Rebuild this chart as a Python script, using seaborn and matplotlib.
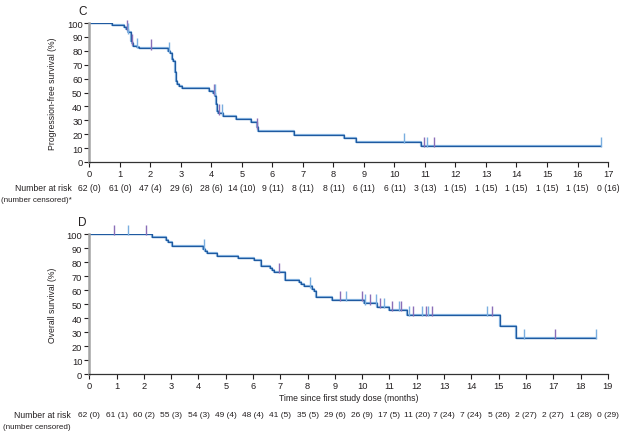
import matplotlib
matplotlib.use('Agg')

import numpy as np
import pandas as pd
import matplotlib.pyplot as plt
import seaborn as sns

# -------------------------------
# Data
# -------------------------------
# Panel C: progression-free survival
pfs_time = [0, 0.73, 1.14, 1.20, 1.25, 1.37, 1.39, 1.42, 1.55, 1.63, 2.59, 2.64, 2.70,
            2.75, 2.81, 2.83, 2.86, 2.92, 3.03, 3.93, 4.05, 4.12, 4.15, 4.18, 4.23, 4.39,
            4.81, 5.30, 5.49, 5.54, 6.69, 8.34, 8.75, 10.88, 16.77]
pfs_surv = [100, 98.3, 96.9, 95.7, 93.3, 87.3, 85.4, 83.7, 82.9, 81.8, 80.1, 78.2, 74.1,
            72.9, 64.5, 58.5, 56.1, 54.5, 53.0, 51.3, 49.4, 47.7, 42.0, 36.9, 35.0, 32.9,
            30.9, 29.0, 25.0, 22.5, 19.4, 17.0, 14.4, 11.7, 11.7]
pfs_censor = [1.24, 1.27, 1.39, 1.55, 2.02, 2.61, 4.07, 4.10, 4.25, 4.35, 5.49,
              10.32, 10.97, 11.06, 11.29, 16.77]
pfs_risk = ["62 (0)", "61 (0)", "47 (4)", "29 (6)", "28 (6)", "14 (10)", "9 (11)", "8 (11)",
            "8 (11)", "6 (11)", "6 (11)", "3 (13)", "1 (15)", "1 (15)", "1 (15)", "1 (15)",
            "1 (15)", "0 (16)"]

# Panel D: overall survival
os_time = [0, 2.31, 2.80, 2.90, 3.02, 4.18, 4.25, 4.30, 4.69, 5.46, 6.03, 6.29, 6.64,
           6.70, 6.78, 7.18, 7.69, 7.77, 7.85, 8.15, 8.22, 8.30, 8.90, 10.07, 10.56,
           10.97, 11.63, 15.04, 15.65, 18.55]
os_surv = [100, 97.6, 96.0, 94.5, 91.2, 89.6, 88.0, 86.4, 84.5, 82.9, 81.4, 77.4, 75.8,
           74.3, 73.1, 67.4, 66.0, 64.3, 62.6, 61.0, 59.5, 54.8, 52.9, 50.5, 48.1,
           45.7, 42.1, 34.0, 25.7, 25.7]
os_censor = [0.90, 1.43, 2.08, 4.20, 6.96, 8.08, 9.20, 9.40, 9.98, 10.12, 10.30, 10.49,
             10.65, 10.80, 11.11, 11.35, 11.42, 11.71, 11.87, 12.18, 12.33, 12.42, 12.57,
             14.57, 14.77, 15.92, 17.06, 18.55]
os_risk = ["62 (0)", "61 (1)", "60 (2)", "55 (3)", "54 (3)", "49 (4)", "48 (4)", "41 (5)",
           "35 (5)", "29 (6)", "26 (9)", "17 (5)", "11 (20)", "7 (24)", "7 (24)", "5 (26)",
           "2 (27)", "2 (27)", "1 (28)", "0 (29)"]

# -------------------------------
# Style
# -------------------------------
sns.set_theme(style="white")
plt.rcParams['font.family'] = ['Liberation Sans', 'DejaVu Sans']

FS = 6.2
TXT = "#231f20"
DARK = "#1f5aa0"
LIGHT = "#8bb8e4"
CENSOR_COLS = ["#8a6fb8", "#7aaee0"]

fig = plt.figure(figsize=(6.27, 4.35), dpi=100)
ax_c = fig.add_axes([0.1427, 0.6253, 0.827, 0.3195])
ax_d = fig.add_axes([0.1424, 0.1379, 0.827, 0.3218])


def km_panel(ax, times, surv, censor, xmax):
    df = pd.DataFrame({"time": times, "surv": surv})
    sns.lineplot(data=df, x="time", y="surv", ax=ax, color=LIGHT, lw=1.6,
                 drawstyle="steps-post", estimator=None, sort=False)
    sns.lineplot(data=df, x="time", y="surv", ax=ax, color=DARK, lw=0.9,
                 drawstyle="steps-post", estimator=None, sort=False)
    # censor ticks sit on the curve, pointing upwards
    idx = np.searchsorted(np.array(times), np.array(censor), side="right") - 1
    yv = np.array(surv)[idx]
    for i, (t, y) in enumerate(zip(censor, yv)):
        ax.vlines(t, y - 1, y + 6.5, color=CENSOR_COLS[i % 2], lw=1.0, zorder=4,
                  clip_on=False)

    ax.set_xlim(0, xmax)
    ax.set_ylim(0, 100)
    ax.set_xticks(range(0, xmax + 1))
    ax.set_yticks(range(0, 101, 10))
    ax.set_xlabel("")
    ax.tick_params(axis="both", direction="out", length=3.5, width=0.8,
                   colors=TXT, labelsize=FS + 0.5, pad=1.5)
    ax.tick_params(axis="both", bottom=True, left=True)
    for s in ["top", "right"]:
        ax.spines[s].set_visible(False)
    ax.spines["left"].set_color("#a3a3a3")
    ax.spines["left"].set_linewidth(1.8)
    ax.spines["bottom"].set_color("#333333")
    ax.spines["bottom"].set_linewidth(0.9)
    ax.yaxis.set_label_coords(-0.063, 0.5)


km_panel(ax_c, pfs_time, pfs_surv, pfs_censor, 17)
km_panel(ax_d, os_time, os_surv, os_censor, 19)

ax_c.set_ylabel("Progression-free survival (%)", fontsize=FS, color=TXT)
ax_d.set_ylabel("Overall survival (%)", fontsize=FS, color=TXT)
ax_d.set_xlabel("Time since first study dose (months)", fontsize=FS, color=TXT)
ax_d.xaxis.set_label_coords(0.5, -0.135)

# risk tables
trans_c = ax_c.get_xaxis_transform()
for m, lab in enumerate(pfs_risk):
    ax_c.text(m, -0.187, lab, transform=trans_c, ha="center", va="center",
              fontsize=FS, color=TXT)
trans_d = ax_d.get_xaxis_transform()
for m, lab in enumerate(os_risk):
    ax_d.text(m, -0.291, lab, transform=trans_d, ha="center", va="center",
              fontsize=FS - 0.2, color=TXT)

fig.text(0.1145, 1 - 189 / 435, "Number at risk", ha="right", va="center", fontsize=FS, color=TXT)
fig.text(0.002, 1 - 201 / 435, "(number censored)*", ha="left", va="center", fontsize=5.8, color=TXT)
fig.text(0.1130, 1 - 415.7 / 435, "Number at risk", ha="right", va="center", fontsize=FS, color=TXT)
fig.text(0.004, 1 - 427.3 / 435, "(number censored)", ha="left", va="center", fontsize=5.8, color=TXT)

# panel letters
fig.text(0.131, 1 - 12 / 435, "C", ha="center", va="center", fontsize=8.5, color=TXT)
fig.text(0.131, 1 - 223 / 435, "D", ha="center", va="center", fontsize=8.5, color=TXT)

fig.savefig("out.png", dpi=100)
